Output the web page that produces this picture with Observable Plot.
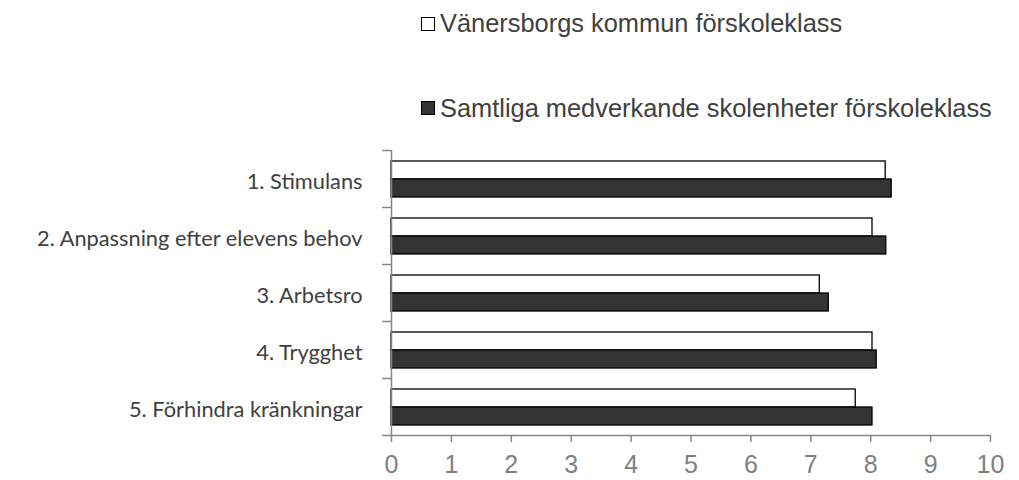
<!DOCTYPE html>
<html>
<head>
<meta charset="utf-8">
<script src="https://cdn.jsdelivr.net/npm/d3@7"></script>
<script src="https://cdn.jsdelivr.net/npm/@observablehq/plot@0.6"></script>
<style>
  html, body { margin: 0; padding: 0; background: #fff; }
  #wrap { position: relative; width: 1019px; height: 480px; overflow: hidden; }
  #legend { position: relative; width: 1019px; height: 140px; font-family: "Liberation Sans", Arial, sans-serif; font-size: 25.4px; color: #404040; }
  .entry { position: absolute; display: flex; align-items: center; height: 25px; line-height: 25px; white-space: nowrap; }
  .sw { width: 14px; height: 14px; box-sizing: border-box; border: 1.3px solid #000; margin-right: 5px; }
  #chart svg { display: block; }
</style>
</head>
<body>
<div id="wrap">
  <div id="legend"></div>
  <div id="chart"></div>
</div>
<script>
const categories = [
  "1. Stimulans",
  "2. Anpassning efter elevens behov",
  "3. Arbetsro",
  "4. Trygghet",
  "5. Förhindra kränkningar"
];
const seriesNames = [
  "Vänersborgs kommun förskoleklass",
  "Samtliga medverkande skolenheter förskoleklass"
];
const vanersborg = [8.25, 8.03, 7.15, 8.03, 7.75];
const samtliga = [8.35, 8.26, 7.30, 8.10, 8.03];
const xTicks = [0, 1, 2, 3, 4, 5, 6, 7, 8, 9, 10];
const seriesFill = ["#ffffff", "#333333"];

// legend
const legend = document.getElementById("legend");
const legendTops = [11, 95.5];
seriesNames.forEach((name, k) => {
  const e = document.createElement("div");
  e.className = "entry";
  e.style.left = "421px";
  e.style.top = legendTops[k] + "px";
  const sw = document.createElement("span");
  sw.className = "sw";
  sw.style.background = seriesFill[k];
  const t = document.createElement("span");
  t.textContent = name;
  e.appendChild(sw);
  e.appendChild(t);
  legend.appendChild(e);
});

const rowsA = categories.map((c, i) => ({cat: c, i, value: vanersborg[i]}));
const rowsB = categories.map((c, i) => ({cat: c, i, value: samtliga[i]}));
const bands = d3.range(categories.length + 1);
const mids = d3.range(categories.length).map(i => i + 0.5);

const chart = Plot.plot({
  width: 1019,
  height: 340,
  marginLeft: 391,
  marginRight: 29,
  marginTop: 10,
  marginBottom: 45,
  style: {background: "#fff", overflow: "visible"},
  x: {domain: [0, 10], label: null},
  y: {domain: [0, categories.length], reverse: true, label: null},
  marks: [
    Plot.rect(rowsA, {x1: d => 0, x2: "value", y1: "i", y2: d => d.i + 1, fill: seriesFill[0], stroke: "#000", strokeWidth: 1.3, insetTop: 11, insetBottom: 28}),
    Plot.rect(rowsB, {x1: d => 0, x2: "value", y1: "i", y2: d => d.i + 1, fill: seriesFill[1], stroke: "#000", strokeWidth: 1.3, insetTop: 29, insetBottom: 10}),
    Plot.ruleX([0], {y1: 0, y2: categories.length, stroke: "#868686", strokeWidth: 1.5}),
    Plot.ruleY([categories.length], {x1: 0, x2: 10, stroke: "#868686", strokeWidth: 1.5}),
    Plot.axisY({ticks: bands, tickSize: 9, tickFormat: () => "", label: null, stroke: "#868686", strokeWidth: 1.5}),
    Plot.axisY({ticks: mids, tickSize: 0, tickPadding: 29, label: null, tickFormat: t => categories[Math.floor(t)],
      fontSize: 21.8, fontFamily: "Lato", fill: "#404040", dy: 3}),
    Plot.axisX({ticks: xTicks, tickSize: 7, tickPadding: 13, label: null, tickFormat: d => String(d), stroke: "#868686", strokeWidth: 1.5,
      fontSize: 25, fontFamily: "Liberation Sans", fill: "#7f7f7f"})
  ]
});
document.getElementById("chart").appendChild(chart);
</script>
</body>
</html>
